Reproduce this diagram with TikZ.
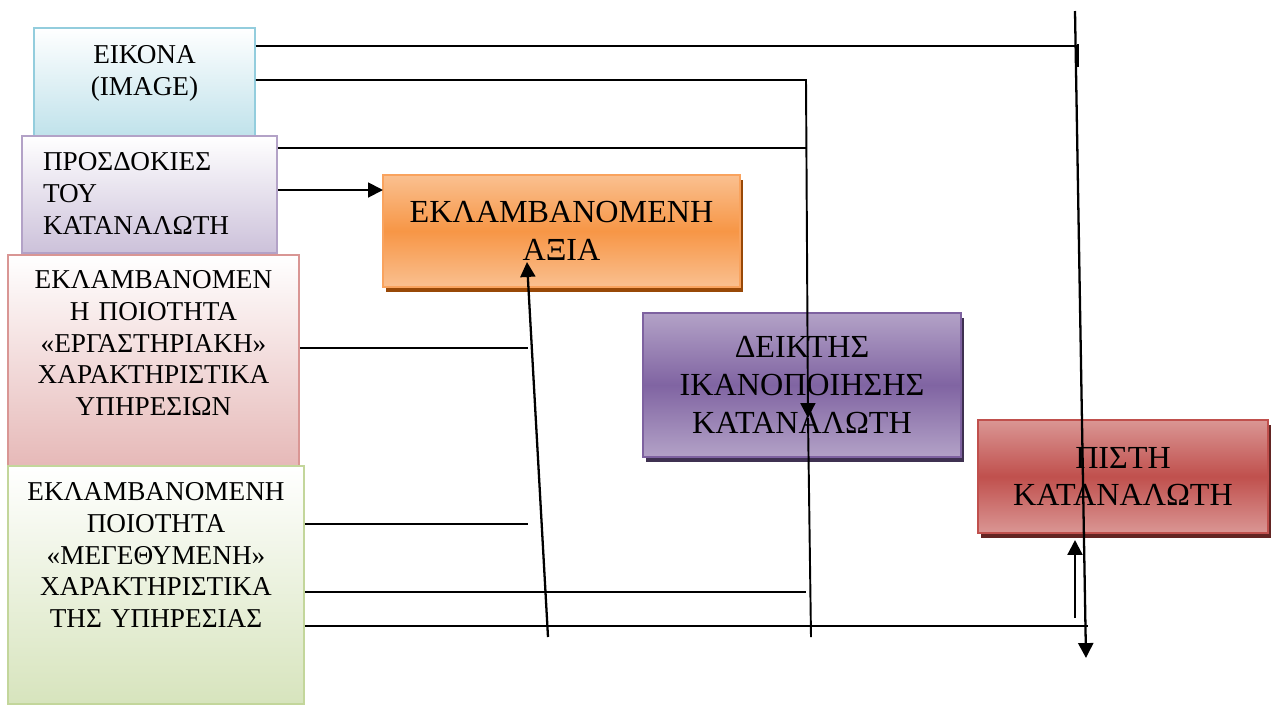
\documentclass[tikz,border=0pt]{standalone}
\usepackage{fontspec}
\setmainfont{Liberation Serif}
\usetikzlibrary{arrows.meta, shadows}

\definecolor{imgline}{HTML}{93CDDD}
\definecolor{imgfill}{HTML}{B7DEE8}
\definecolor{expline}{HTML}{B3A2C7}
\definecolor{expfill}{HTML}{CCC1DA}
\definecolor{labline}{HTML}{D99694}
\definecolor{labfill}{HTML}{E6B9B8}
\definecolor{sizeline}{HTML}{C3D69B}
\definecolor{sizefill}{HTML}{D7E4BD}
\definecolor{valline}{HTML}{F9A35E}
\definecolor{vallight}{HTML}{FAC090}
\definecolor{valdark}{HTML}{F79646}
\definecolor{valshadow}{HTML}{984807}
\definecolor{idxline}{HTML}{7E62A0}
\definecolor{idxlight}{HTML}{B3A2C7}
\definecolor{idxdark}{HTML}{8064A2}
\definecolor{idxshadow}{HTML}{3F3151}
\definecolor{loyline}{HTML}{C0504D}
\definecolor{loylight}{HTML}{DA9694}
\definecolor{loydark}{HTML}{C0504D}
\definecolor{loyshadow}{HTML}{632523}

\begin{document}
\begin{tikzpicture}[x=0.02cm, y=-0.02cm, >={Triangle[length=8.5pt, width=8.5pt]}, line width=1.1pt]

  \tikzstyle{sidebox}=[draw, line width=1pt, anchor=north, inner sep=0pt, align=center, font=\fontsize{15.5}{18}\selectfont]
  \tikzstyle{mainbox}=[draw, line width=1.2pt, inner sep=0pt, align=center, font=\fontsize{18.3}{21.5}\selectfont]

  \useasboundingbox (0,0) rectangle (1275,704);

  % boxes on the left
  \node[sidebox, draw=imgline, top color=white, bottom color=imgfill, text width=4.42cm, text height=0.72cm, text depth=1.74cm] (image) at (144.5,27) {ΕΙΚΟΝΑ\\(IMAGE)};
  \node[sidebox, draw=expline, top color=white, bottom color=expfill, align=left, inner xsep=0.42cm, text width=4.26cm, text height=0.7cm, text depth=1.64cm] (expect) at (149.5,135) {ΠΡΟΣΔΟΚΙΕΣ\\ΤΟΥ\\ΚΑΤΑΝΑΛΩΤΗ};
  \node[sidebox, draw=labline, top color=white, bottom color=labfill, text width=5.82cm, text height=0.68cm, text depth=3.54cm] (lab) at (153.5,254) {ΕΚΛΑΜΒΑΝΟΜΕΝ\\Η ΠΟΙΟΤΗΤΑ\\«ΕΡΓΑΣΤΗΡΙΑΚΗ»\\ΧΑΡΑΚΤΗΡΙΣΤΙΚΑ\\ΥΠΗΡΕΣΙΩΝ};
  \node[sidebox, draw=sizeline, top color=white, bottom color=sizefill, text width=5.92cm, text height=0.7cm, text depth=4.06cm] (size) at (156,465) {ΕΚΛΑΜΒΑΝΟΜΕΝΗ\\ΠΟΙΟΤΗΤΑ\\«ΜΕΓΕΘΥΜΕΝΗ»\\ΧΑΡΑΚΤΗΡΙΣΤΙΚΑ\\ΤΗΣ ΥΠΗΡΕΣΙΑΣ};

  % main boxes
  \node[mainbox, draw=valline, top color=vallight, bottom color=vallight, middle color=valdark, minimum width=7.14cm, minimum height=2.24cm,
        drop shadow={shadow xshift=0.06cm, shadow yshift=-0.1cm, fill=valshadow, opacity=1}] (value) at (561.5,231) {ΕΚΛΑΜΒΑΝΟΜΕΝΗ\\ΑΞΙΑ};
  \node[mainbox, draw=idxline, top color=idxlight, bottom color=idxlight, middle color=idxdark, minimum width=6.36cm, minimum height=2.88cm,
        drop shadow={shadow xshift=0.06cm, shadow yshift=-0.1cm, fill=idxshadow, opacity=1}] (index) at (802,385) {ΔΕΙΚΤΗΣ\\ΙΚΑΝΟΠΟΙΗΣΗΣ\\ΚΑΤΑΝΑΛΩΤΗ};
  \node[mainbox, draw=loyline, top color=loylight, bottom color=loylight, middle color=loydark, minimum width=5.8cm, minimum height=2.26cm,
        drop shadow={shadow xshift=0.06cm, shadow yshift=-0.1cm, fill=loyshadow, opacity=1}] (loyal) at (1123,476.5) {ΠΙΣΤΗ\\ΚΑΤΑΝΑΛΩΤΗ};

  % end points of the connectors
  \coordinate (imgtick) at (1078,46);
  \coordinate (ticktop) at (1078,44);
  \coordinate (tickend) at (1078,67);
  \coordinate (loytop) at (1075,11);
  \coordinate (loybot) at (1086,658);
  \coordinate (imgturn) at (806,80);
  \coordinate (idxhead) at (808,418);
  \coordinate (idxfoot) at (811,637);
  \coordinate (expjoin) at (806,148);
  \coordinate (expin) at (383,190);
  \coordinate (labend) at (528,348);
  \coordinate (sizeend) at (528,524);
  \coordinate (sizemid) at (806,592);
  \coordinate (sizelow) at (1088,626);
  \coordinate (valfoot) at (548,637);
  \coordinate (valhead) at (527,262);
  \coordinate (loyfoot) at (1075,618);
  \coordinate (loyhead) at (1075,540);

  \draw (image.east |- imgtick) -- (imgtick);
  \draw (ticktop) -- (tickend);
  \draw[->, line width=1.3pt] (loytop) -- (loybot);
  \draw[->] (image.east |- imgturn) -- (imgturn) -- (idxhead);
  \draw (idxhead) -- (idxfoot);
  \draw (expect.east |- expjoin) -- (expjoin);
  \draw[->] (expect.east |- expin) -- (expin);
  \draw (lab.east |- labend) -- (labend);
  \draw (size.east |- sizeend) -- (sizeend);
  \draw (size.east |- sizemid) -- (sizemid);
  \draw (size.east |- sizelow) -- (sizelow);
  \draw[->, line width=1.3pt] (valfoot) -- (valhead);
  \draw[->, line width=1.3pt] (loyfoot) -- (loyhead);

\end{tikzpicture}
\end{document}
